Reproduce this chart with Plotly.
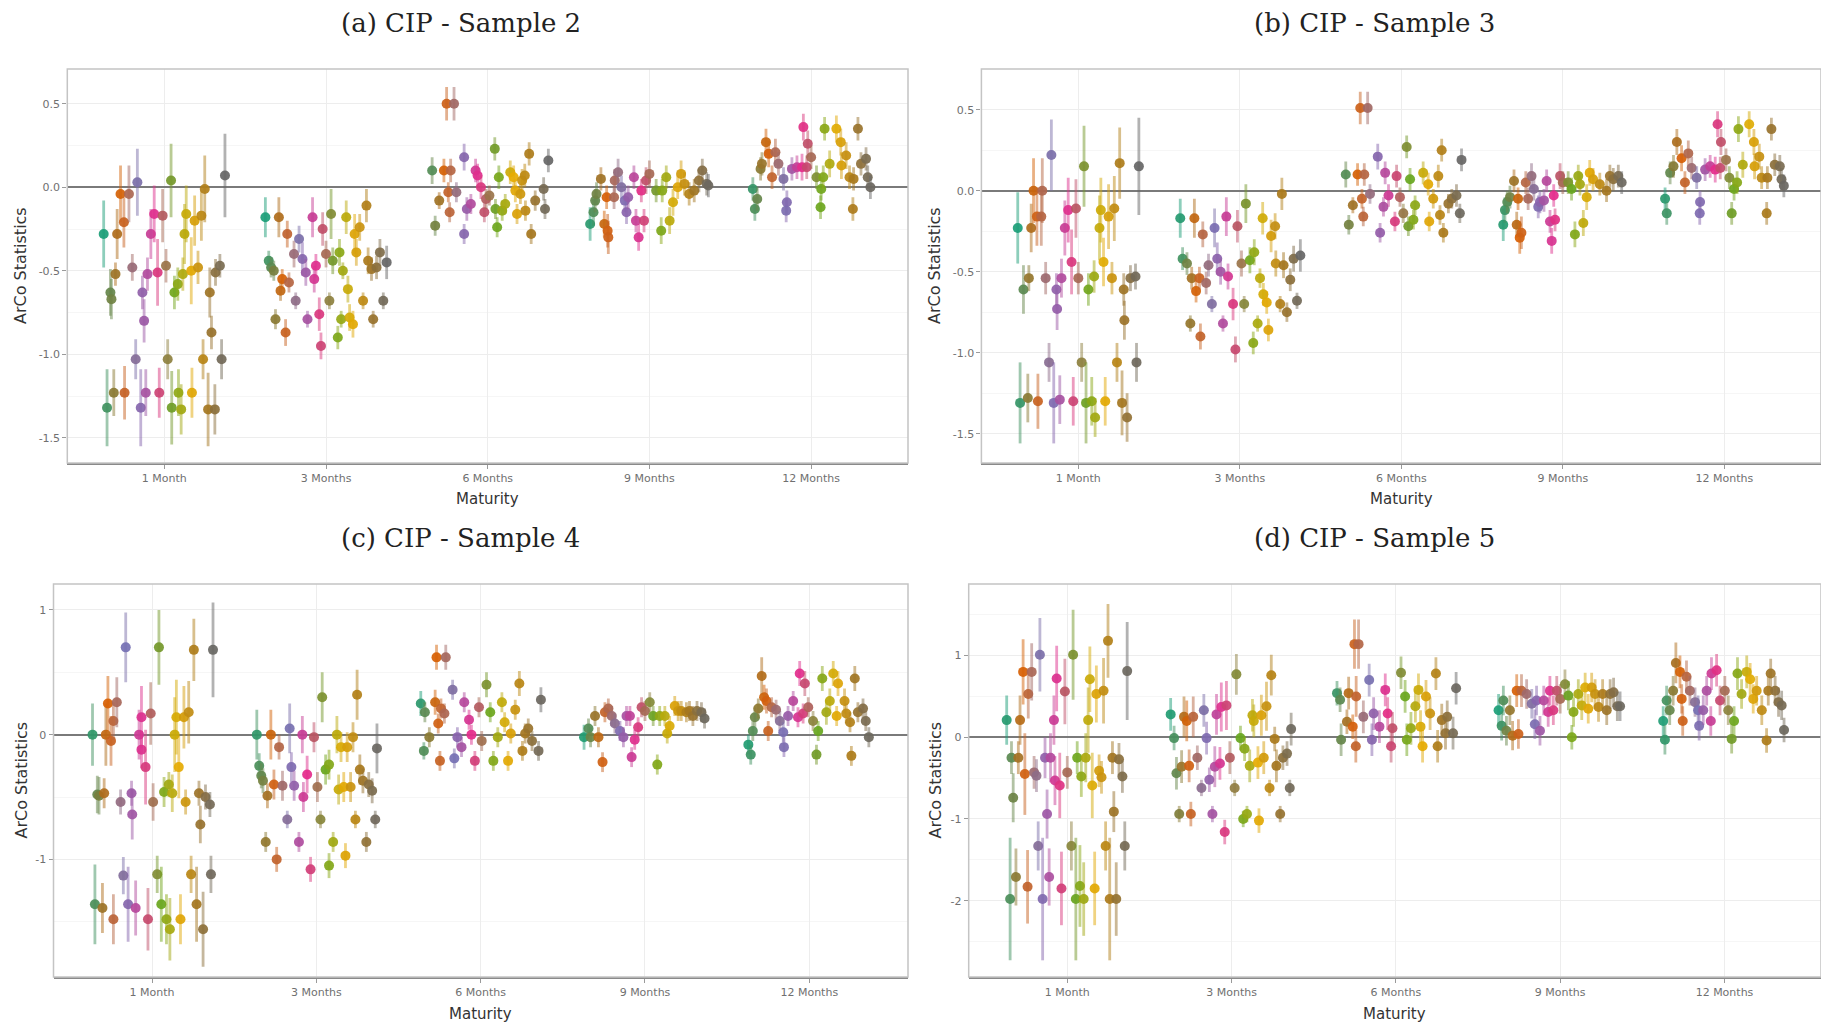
import plotly.graph_objects as go

# ---------------- data ----------------
MATURITIES = ["1 Month", "3 Months", "6 Months", "9 Months", "12 Months"]
PANEL_TITLES = ["(a) CIP - Sample 2", "(b) CIP - Sample 3", "(c) CIP - Sample 4", "(d) CIP - Sample 5"]

# each entry: (dodge slot 0..36, ArCo statistic, half width of interval)
A_1M = [(0,-0.28,0.20),(1,-1.32,0.23),(2,-0.63,0.14),(2.3,-0.67,0.12),(3,-1.23,0.14),(3.5,-0.52,0.07),(4,-0.28,0.15),(5,-0.04,0.17),(6,-0.21,0.15),(6.2,-1.23,0.16),(7.5,-0.04,0.17),(8.5,-0.48,0.08),(9.5,-1.03,0.12),(10,0.03,0.20),(11,-1.32,0.23),(11.5,-0.63,0.10),(12,-0.80,0.13),(12.5,-1.23,0.14),(13,-0.52,0.10),(14,-0.28,0.15),(15,-0.16,0.17),(16,-0.51,0.20),(16.5,-1.23,0.15),(17.5,-0.17,0.16),(18.5,-0.47,0.10),(19,-1.03,0.12),(20,0.04,0.22),(20.2,-1.32,0.22),(21,-0.63,0.10),(22,-0.58,0.10),(22.2,-1.23,0.14),(23,-1.33,0.15),(23.5,-0.52,0.10),(24,-0.28,0.18),(24.5,-0.16,0.17),(26,-0.50,0.20),(26.2,-1.23,0.15),(27,-0.20,0.15),(28,-0.48,0.10),(29,-0.17,0.15),(29.5,-1.03,0.12),(30,-0.01,0.20),(31,-1.33,0.22),(31.5,-0.63,0.15),(32,-0.87,0.10),(33,-1.33,0.15),(33.2,-0.51,0.08),(34.5,-0.47,0.07),(35,-1.03,0.12),(36,0.07,0.25)]
A_3M = [(0,-0.18,0.12),(1,-0.44,0.06),(1.7,-0.48,0.06),(2.5,-0.50,0.06),(3,-0.79,0.06),(4,-0.18,0.12),(4.5,-0.62,0.06),(5,-0.55,0.06),(6,-0.87,0.08),(6.5,-0.28,0.08),(7,-0.57,0.06),(8.5,-0.40,0.08),(9,-0.68,0.05),(10,-0.31,0.08),(11,-0.43,0.10),(12,-0.51,0.08),(12.5,-0.79,0.05),(14,-0.18,0.12),(14.5,-0.55,0.08),(15,-0.47,0.07),(16,-0.76,0.10),(16.5,-0.95,0.08),(17,-0.25,0.10),(18,-0.40,0.08),(19,-0.68,0.05),(19.5,-0.16,0.15),(20,-0.44,0.08),(21.5,-0.90,0.07),(22,-0.39,0.08),(22.5,-0.79,0.05),(23,-0.50,0.05),(24,-0.18,0.10),(24.5,-0.61,0.08),(25,-0.78,0.08),(26,-0.82,0.08),(26.5,-0.28,0.12),(27,-0.39,0.08),(28,-0.24,0.08),(29,-0.68,0.05),(30,-0.11,0.10),(30.5,-0.44,0.08),(31.5,-0.49,0.07),(32,-0.79,0.05),(33,-0.48,0.07),(34,-0.39,0.08),(35,-0.68,0.05),(36,-0.45,0.10)]
A_6M = [(1.5,0.10,0.08),(2.4,-0.23,0.06),(3.6,-0.08,0.05),(5,0.10,0.07),(5.8,0.50,0.10),(6.3,-0.03,0.06),(6.7,-0.15,0.06),(7,0.10,0.07),(8,0.50,0.10),(8.7,-0.03,0.06),(11,0.18,0.08),(11,-0.28,0.06),(11.8,-0.13,0.07),(13,-0.10,0.06),(14.4,0.10,0.07),(15,0.07,0.07),(16,0.00,0.07),(17,-0.15,0.06),(17.5,-0.07,0.06),(18.5,-0.05,0.06),(20.1,0.23,0.07),(20.3,-0.13,0.06),(20.8,-0.24,0.06),(21.3,0.06,0.07),(22.3,-0.14,0.06),(23.2,-0.10,0.06),(24.7,0.09,0.07),(25.7,0.06,0.07),(26.2,-0.02,0.07),(26.7,-0.16,0.06),(27.7,-0.04,0.06),(28.2,0.04,0.07),(29,0.07,0.07),(29.2,-0.14,0.06),(30.3,0.20,0.07),(30.9,-0.28,0.06),(32.1,-0.08,0.06),(34.6,-0.01,0.07),(35,-0.13,0.06),(36,0.16,0.07)]
A_9M = [(0.4,-0.22,0.10),(1.4,-0.15,0.08),(1.9,-0.08,0.07),(2.3,-0.04,0.07),(3.6,0.05,0.07),(4.6,-0.22,0.08),(5.3,-0.06,0.07),(5.6,-0.26,0.10),(5.8,-0.30,0.10),(7.5,-0.06,0.07),(7.7,0.04,0.07),(8.7,0.09,0.08),(9.7,0.00,0.07),(10.7,-0.08,0.07),(11.2,-0.15,0.07),(11.7,-0.06,0.07),(13.4,0.06,0.07),(14,-0.20,0.07),(14.8,-0.30,0.08),(15.6,-0.02,0.07),(16.4,-0.20,0.07),(17,0.04,0.08),(18,0.08,0.08),(20,-0.02,0.07),(21.5,-0.26,0.08),(21.8,-0.02,0.07),(23,0.06,0.07),(24,-0.20,0.08),(25,-0.09,0.08),(26.4,0.00,0.07),(27.4,0.08,0.08),(28.4,0.02,0.07),(29.8,-0.04,0.07),(31.3,-0.02,0.07),(32.7,0.04,0.07),(33.7,0.10,0.07),(35,0.02,0.07),(35.5,0.01,0.07)]
A_12M = [(0.7,-0.01,0.07),(1.3,-0.13,0.07),(2,-0.07,0.07),(3,0.11,0.07),(3.4,0.14,0.07),(4.6,0.27,0.08),(5.4,0.20,0.08),(6.4,0.06,0.07),(7.4,0.21,0.08),(8.3,0.14,0.07),(9.8,0.05,0.07),(10.8,-0.09,0.07),(10.6,-0.14,0.07),(12.3,0.11,0.07),(13.8,0.12,0.07),(15.7,0.36,0.08),(15.3,0.12,0.08),(16.7,0.12,0.07),(17,0.26,0.08),(18,0.18,0.07),(19.6,0.06,0.07),(21,-0.01,0.07),(20.8,-0.12,0.07),(21.6,0.06,0.07),(22,0.35,0.07),(23.5,0.14,0.08),(25.5,0.35,0.08),(26.8,0.27,0.08),(27,0.13,0.08),(28.4,0.19,0.08),(29.4,0.06,0.07),(30.6,0.05,0.07),(30.4,-0.13,0.07),(31.9,0.35,0.07),(32.8,0.14,0.07),(34.3,0.17,0.07),(34.8,0.06,0.07),(35.6,0.00,0.07)]

B_1M = [(0,-0.23,0.22),(0.7,-1.31,0.25),(1.7,-0.61,0.15),(3,-1.28,0.15),(3.3,-0.54,0.08),(4,-0.23,0.15),(4.7,0.00,0.20),(5.7,-0.16,0.18),(6,-1.30,0.17),(7,-0.16,0.18),(7.3,0.00,0.20),(8.3,-0.54,0.10),(9.3,-1.06,0.12),(10,0.22,0.22),(10.7,-1.31,0.25),(11.5,-0.61,0.10),(11.7,-0.73,0.13),(12.5,-1.29,0.15),(13,-0.54,0.12),(14,-0.23,0.17),(15,-0.12,0.20),(16,-0.44,0.20),(16.5,-1.30,0.15),(17.3,-0.11,0.18),(18,-0.54,0.10),(19,-1.06,0.12),(19.7,0.15,0.25),(20.3,-1.31,0.25),(21,-0.61,0.10),(22,-1.30,0.15),(22.7,-0.53,0.10),(23,-1.40,0.12),(24.3,-0.23,0.20),(24.7,-0.12,0.20),(25.5,-0.44,0.15),(26,-1.30,0.15),(27,-0.16,0.20),(28,-0.54,0.10),(28.7,-0.11,0.20),(29.5,-1.06,0.12),(30.3,0.17,0.22),(31,-1.31,0.20),(31.5,-0.61,0.10),(31.7,-0.80,0.12),(32.5,-1.40,0.15),(33.5,-0.54,0.08),(35,-0.53,0.08),(35.3,-1.06,0.12),(36,0.15,0.30)]
B_3M = [(0.3,-0.17,0.12),(1,-0.42,0.07),(2.3,-0.45,0.07),(3.3,-0.82,0.05),(3.7,-0.54,0.07),(4.5,-0.17,0.12),(5,-0.62,0.07),(6,-0.54,0.07),(6.3,-0.90,0.08),(7,-0.27,0.08),(8,-0.57,0.07),(8.7,-0.46,0.07),(9.7,-0.70,0.05),(10.5,-0.23,0.12),(11.3,-0.42,0.10),(12.3,-0.50,0.08),(13,-0.82,0.05),(14,-0.16,0.12),(14.5,-0.53,0.08),(16,-0.70,0.10),(16.7,-0.98,0.08),(17.3,-0.22,0.10),(18.5,-0.45,0.08),(19.3,-0.70,0.05),(19.8,-0.08,0.12),(21,-0.43,0.08),(22,-0.94,0.07),(22.3,-0.38,0.08),(23.3,-0.82,0.05),(24,-0.54,0.06),(24.8,-0.17,0.10),(25,-0.64,0.07),(26,-0.69,0.07),(26.5,-0.86,0.07),(27.3,-0.28,0.10),(28.5,-0.22,0.08),(28.7,-0.45,0.08),(30,-0.70,0.05),(30.5,-0.02,0.10),(31,-0.46,0.08),(32,-0.75,0.06),(33,-0.55,0.07),(34,-0.42,0.08),(35,-0.68,0.05),(36,-0.40,0.10)]
B_6M = [(1.5,0.10,0.08),(2.4,-0.21,0.06),(3.6,-0.09,0.05),(5,0.10,0.07),(5.8,0.51,0.10),(6.3,-0.05,0.06),(6.7,-0.16,0.06),(7,0.10,0.07),(8,0.51,0.10),(8.7,-0.02,0.06),(11,0.21,0.08),(11.7,-0.26,0.06),(12.7,-0.10,0.06),(13.2,0.11,0.07),(14.2,-0.03,0.07),(16.1,-0.19,0.06),(16.6,0.09,0.07),(17.6,-0.04,0.06),(18.6,-0.14,0.06),(19.6,0.27,0.07),(20.1,-0.22,0.06),(20.6,0.07,0.07),(21.6,-0.18,0.06),(22.1,-0.09,0.06),(24.5,0.11,0.07),(26,0.04,0.07),(26.3,-0.19,0.06),(27.5,-0.05,0.06),(29,0.09,0.07),(29.5,-0.15,0.06),(30,0.25,0.07),(30.5,-0.26,0.06),(32,-0.08,0.06),(33,-0.05,0.06),(34.4,-0.03,0.07),(35.4,-0.14,0.06),(35.9,0.19,0.07)]
B_9M = [(0.3,-0.21,0.10),(0.8,-0.12,0.08),(1.5,-0.07,0.07),(2.3,-0.04,0.07),(3.5,0.06,0.07),(4.3,-0.21,0.08),(4.7,-0.05,0.07),(5.2,-0.29,0.10),(5.7,-0.26,0.10),(7,0.05,0.07),(7.7,-0.05,0.07),(8.7,0.09,0.08),(9.4,0.01,0.07),(10.7,-0.10,0.07),(11.2,-0.07,0.07),(12.4,-0.06,0.07),(13.2,0.06,0.07),(14.2,-0.19,0.07),(14.7,-0.31,0.08),(15.3,-0.03,0.07),(15.7,-0.18,0.07),(17.2,0.09,0.08),(18,0.05,0.07),(19.6,0.05,0.07),(20.6,0.01,0.07),(21.6,-0.27,0.08),(22.6,0.09,0.07),(23.1,0.04,0.07),(24.1,-0.20,0.08),(25.1,-0.04,0.08),(26,0.11,0.08),(27,0.07,0.07),(29,0.04,0.07),(31,0.00,0.07),(32,0.09,0.07),(33,0.07,0.07),(34.5,0.09,0.07),(35.5,0.05,0.07)]
B_12M = [(0.4,-0.05,0.07),(0.9,-0.14,0.07),(1.9,0.11,0.07),(2.9,0.15,0.07),(3.9,0.30,0.08),(5.3,0.20,0.08),(6.3,0.05,0.07),(7.3,0.23,0.08),(8.3,0.14,0.07),(9.8,0.08,0.07),(10.8,-0.07,0.07),(10.7,-0.14,0.07),(12.3,0.13,0.07),(13.8,0.15,0.07),(15.3,0.13,0.08),(16,0.41,0.08),(16.8,0.14,0.07),(17,0.30,0.08),(18.5,0.19,0.07),(19.5,0.08,0.07),(20.9,0.01,0.07),(20.2,-0.14,0.07),(21.8,0.05,0.07),(22.2,0.38,0.08),(23.5,0.16,0.08),(25.4,0.41,0.08),(26.8,0.30,0.08),(27,0.15,0.08),(28.4,0.21,0.08),(29.1,0.08,0.07),(30.8,0.08,0.07),(30.6,-0.14,0.07),(32,0.38,0.07),(33,0.16,0.07),(34.5,0.15,0.07),(35,0.07,0.07),(35.7,0.03,0.07)]

C_1M = [(0.6,0.00,0.25),(1.3,-1.36,0.32),(2,-0.48,0.15),(2.5,-0.49,0.15),(3.5,-1.39,0.20),(4,-0.47,0.12),(4.5,0.00,0.25),(5.1,0.25,0.22),(6,-0.05,0.20),(6.7,0.11,0.15),(6.7,-1.48,0.20),(7.7,0.26,0.20),(8.8,-0.54,0.10),(9.6,-1.13,0.15),(10.3,0.70,0.28),(11,-1.36,0.30),(12,-0.47,0.10),(12.2,-0.64,0.20),(13.2,-1.39,0.22),(14.2,0.00,0.20),(14.9,0.14,0.25),(14.9,-0.12,0.15),(16.1,-0.26,0.30),(16.8,-1.48,0.25),(17.6,0.17,0.25),(18.3,-0.54,0.15),(19.5,-1.12,0.15),(20,0.70,0.30),(20.7,-1.36,0.30),(21.5,-0.46,0.12),(22.2,-1.48,0.20),(22.9,-0.40,0.10),(23.2,-1.56,0.25),(23.9,-0.47,0.15),(24.6,0.00,0.30),(25.1,0.14,0.30),(25.8,-0.26,0.25),(26.3,-1.48,0.20),(27.3,0.14,0.25),(27.8,-0.54,0.10),(28.7,0.18,0.25),(29.4,-1.12,0.15),(30.2,0.68,0.25),(31,-1.36,0.30),(31.7,-0.47,0.10),(32.1,-0.72,0.15),(32.9,-1.56,0.30),(33.6,-0.50,0.10),(34.9,-0.56,0.10),(35.2,-1.12,0.15),(35.8,0.68,0.38)]
C_3M = [(0.6,0.00,0.20),(1.3,-0.25,0.10),(1.9,-0.33,0.10),(2.4,-0.37,0.10),(3.2,-0.86,0.08),(3.7,-0.49,0.10),(4.7,0.00,0.20),(5.6,-0.40,0.12),(6.4,-1.00,0.10),(7.1,-0.10,0.10),(8.1,-0.41,0.12),(9.5,-0.68,0.07),(10.2,0.05,0.20),(10.7,-0.26,0.12),(11.5,-0.41,0.12),(12.9,-0.86,0.08),(13.9,0.00,0.15),(14.2,-0.50,0.12),(15.3,-0.32,0.15),(16.3,-1.08,0.10),(17.3,-0.02,0.12),(18.3,-0.42,0.12),(19.2,-0.68,0.07),(19.7,0.30,0.20),(20.7,-0.28,0.12),(21.7,-0.24,0.12),(21.7,-1.05,0.10),(22.9,-0.86,0.08),(24,0.00,0.15),(24.5,-0.44,0.12),(25.2,-0.10,0.12),(26,-0.42,0.12),(26.5,-0.97,0.10),(27,-0.10,0.12),(28,-0.42,0.12),(28.7,-0.02,0.12),(29.4,-0.68,0.07),(29.9,0.32,0.20),(30.7,-0.28,0.12),(31.6,-0.37,0.10),(32.6,-0.86,0.08),(33.3,-0.40,0.10),(34.3,-0.45,0.10),(35.2,-0.68,0.07),(35.7,-0.11,0.20)]
C_6M = [(0.5,0.25,0.10),(1.7,0.18,0.08),(1.4,-0.13,0.07),(3,-0.02,0.08),(4.7,0.26,0.10),(5.1,0.62,0.10),(7.8,0.62,0.10),(5.6,0.09,0.08),(6.4,0.21,0.08),(6.1,-0.21,0.08),(7.4,0.17,0.08),(9.8,0.36,0.08),(10.3,-0.19,0.08),(11.2,-0.02,0.08),(12.4,-0.10,0.08),(13.2,0.26,0.08),(14.6,0.12,0.08),(15.3,0.00,0.08),(16.3,-0.21,0.08),(17.5,0.22,0.08),(18.3,-0.05,0.08),(19.7,0.40,0.10),(20.8,0.18,0.08),(21.7,-0.21,0.08),(23,-0.02,0.08),(24.2,0.26,0.08),(25,0.10,0.08),(26,-0.21,0.08),(26.8,0.01,0.08),(28.1,0.20,0.08),(29.3,0.41,0.10),(30.2,-0.13,0.08),(31,0.01,0.08),(31.9,0.05,0.08),(33,-0.05,0.08),(34.9,-0.13,0.08),(35.6,0.28,0.10)]
C_9M = [(0.2,-0.02,0.10),(1.5,0.05,0.08),(2.1,-0.02,0.08),(3.4,0.15,0.08),(4.4,-0.02,0.08),(5.6,-0.22,0.08),(6.3,0.18,0.08),(7.3,0.21,0.08),(8.3,0.15,0.08),(9.2,0.09,0.08),(10.7,0.03,0.08),(11.7,-0.02,0.08),(12.6,0.15,0.08),(13.6,0.15,0.08),(14.1,-0.18,0.08),(15,-0.04,0.08),(16,0.06,0.08),(17,0.22,0.08),(18,0.19,0.08),(19.4,0.26,0.08),(20.4,0.15,0.08),(21.6,-0.24,0.08),(22.3,0.15,0.08),(23.8,0.15,0.08),(24.5,0.01,0.08),(25.2,0.07,0.08),(26.7,0.23,0.08),(27.7,0.19,0.08),(28.6,0.19,0.08),(30.1,0.18,0.08),(31,0.19,0.08),(32,0.15,0.08),(33.2,0.19,0.08),(34.5,0.18,0.08),(35.4,0.13,0.08)]
C_12M = [(0.2,-0.08,0.08),(0.9,-0.16,0.08),(1.5,0.03,0.08),(2.1,0.14,0.08),(3.1,0.21,0.08),(4.1,0.47,0.15),(4.8,0.30,0.10),(5.5,0.27,0.10),(6,0.03,0.08),(7,0.22,0.08),(8.3,0.20,0.08),(9.4,0.11,0.08),(10.4,0.02,0.08),(10.6,-0.10,0.08),(11.8,0.15,0.08),(13.3,0.27,0.08),(15.2,0.49,0.10),(16.7,0.41,0.10),(14.7,0.14,0.08),(16.2,0.17,0.08),(17.7,0.22,0.08),(19.1,0.11,0.08),(20.6,0.03,0.08),(20.1,-0.16,0.08),(21.8,0.45,0.10),(23,0.18,0.10),(24,0.27,0.10),(25,0.49,0.10),(26.4,0.41,0.10),(26,0.15,0.08),(28.3,0.27,0.10),(28.8,0.17,0.08),(30.3,-0.17,0.08),(29.9,0.10,0.08),(31.3,0.45,0.10),(32.2,0.18,0.08),(33.7,0.21,0.08),(34.5,0.11,0.08),(35.4,-0.02,0.08)]

D_1M = [(0.3,0.21,0.30),(1.3,-1.98,0.75),(1.7,-0.25,0.20),(2.2,-0.74,0.30),(3,-1.71,0.35),(3.7,-0.25,0.20),(4.2,0.21,0.30),(5.1,0.80,0.40),(5.6,-0.45,0.50),(6.4,-1.83,0.45),(6.6,0.53,0.30),(7.6,0.80,0.35),(8.3,-0.43,0.20),(9,-0.47,0.20),(9.5,-1.33,0.30),(10,1.01,0.45),(10.8,-1.98,0.75),(11.5,-0.25,0.25),(12.1,-0.94,0.30),(12.7,-1.71,0.35),(13.1,-0.25,0.30),(14.1,0.21,0.30),(14.4,-0.53,0.30),(14.9,0.72,0.40),(15.8,-0.59,0.40),(16.3,-1.85,0.45),(17.3,0.56,0.40),(18,-0.43,0.20),(19.2,-1.33,0.30),(19.7,1.01,0.55),(20.5,-1.98,0.75),(20.9,-0.25,0.20),(21.7,-1.82,0.50),(22.1,-0.48,0.25),(22.8,-1.98,0.45),(23.4,-0.25,0.30),(24.1,0.21,0.40),(24.6,0.71,0.40),(25.3,-0.59,0.40),(26,-1.85,0.45),(26.5,0.53,0.35),(27.3,-0.41,0.20),(28,-0.49,0.20),(28.6,0.57,0.40),(29.2,-1.33,0.30),(29.9,1.18,0.45),(30.4,-1.98,0.75),(31.2,-0.25,0.20),(31.6,-0.91,0.25),(32.3,-1.98,0.45),(33.1,-0.27,0.20),(34.1,-0.48,0.20),(34.8,-1.33,0.30),(35.5,0.81,0.60)]
D_3M = [(0.2,0.28,0.20),(1.2,-0.01,0.15),(1.9,-0.44,0.20),(2.7,-0.94,0.10),(3.4,-0.36,0.20),(4.1,0.25,0.25),(4.9,0.20,0.25),(5.6,-0.35,0.20),(6.1,-0.94,0.15),(6.8,0.25,0.25),(8,-0.25,0.15),(9.2,-0.62,0.10),(9.9,0.33,0.20),(10.7,-0.01,0.20),(11.5,-0.52,0.15),(12.4,-0.94,0.10),(13.1,-0.36,0.25),(13.6,0.28,0.25),(14.6,-0.32,0.20),(15,0.37,0.30),(16,-1.16,0.15),(16.5,0.39,0.30),(17.5,-0.25,0.20),(18.9,-0.62,0.10),(19.4,0.77,0.25),(20.6,-0.01,0.15),(21.4,-1.00,0.10),(21.8,-0.14,0.15),(22.5,-0.94,0.10),(23.3,-0.35,0.20),(24.1,0.27,0.20),(24.5,0.20,0.20),(25.7,-0.31,0.20),(26,-1.02,0.15),(26.7,0.27,0.25),(27.4,-0.25,0.20),(28.2,0.38,0.30),(29.1,-0.62,0.10),(29.6,0.76,0.25),(30.6,-0.02,0.15),(31.1,-0.35,0.20),(32.2,-0.94,0.10),(33,-0.25,0.15),(34.2,-0.20,0.15),(35,-0.62,0.10),(35.4,0.10,0.20)]
D_6M = [(0.8,0.54,0.15),(1.7,0.46,0.15),(2,-0.03,0.20),(3.7,0.19,0.15),(4.2,0.54,0.20),(5.9,1.14,0.30),(7.1,1.14,0.30),(6.4,0.50,0.25),(5.4,0.13,0.15),(6.3,-0.11,0.20),(8.5,0.25,0.20),(10.2,0.70,0.20),(11,-0.03,0.20),(11.5,0.29,0.20),(13.2,0.13,0.20),(14.9,0.58,0.20),(15.6,0.29,0.20),(16.6,-0.11,0.20),(17,0.11,0.20),(19.5,0.79,0.20),(20.7,0.50,0.20),(21.2,-0.03,0.20),(22.4,0.11,0.20),(23.7,0.38,0.20),(24.6,0.58,0.20),(25.2,0.13,0.20),(25.8,-0.11,0.20),(26.8,0.50,0.20),(28,0.29,0.20),(29.7,0.78,0.20),(30.2,-0.11,0.20),(31.4,0.21,0.20),(32.5,0.05,0.20),(33,0.25,0.20),(34.7,0.05,0.20),(35.6,0.60,0.20)]
D_9M = [(0,0.33,0.20),(0.9,0.14,0.18),(1.4,0.45,0.18),(2.3,0.08,0.18),(3.3,0.33,0.18),(4.1,0.02,0.18),(5.3,0.57,0.20),(5.8,0.04,0.18),(6.7,0.57,0.20),(8.2,0.53,0.18),(9.7,0.41,0.18),(10.6,0.16,0.18),(11.1,0.45,0.18),(12.1,0.08,0.18),(13.2,0.45,0.18),(14.5,0.31,0.18),(15,0.57,0.18),(16,0.33,0.18),(17,0.57,0.18),(18,0.47,0.18),(19.4,0.65,0.18),(20.4,0.51,0.18),(21.4,0.00,0.15),(21.9,0.31,0.18),(23.3,0.53,0.18),(24.3,0.39,0.18),(25.3,0.61,0.18),(26.2,0.35,0.18),(27.2,0.61,0.18),(28.2,0.53,0.18),(29.2,0.37,0.18),(30.4,0.53,0.18),(31.6,0.33,0.18),(32.6,0.53,0.18),(33.6,0.55,0.18),(34.7,0.38,0.18),(35.5,0.38,0.18)]
D_12M = [(0.1,0.20,0.18),(0.6,-0.03,0.18),(1.1,0.45,0.18),(2,0.33,0.18),(3,0.57,0.18),(3.8,0.91,0.25),(5,0.80,0.20),(5.5,0.47,0.18),(5.8,0.20,0.18),(6.9,0.74,0.20),(7.9,0.57,0.18),(9.4,0.43,0.18),(10.3,0.33,0.18),(10.6,0.14,0.18),(11.8,0.33,0.18),(12.8,0.57,0.18),(14,0.20,0.18),(14.2,0.78,0.20),(15.7,0.82,0.20),(16.7,0.45,0.18),(18.1,0.57,0.18),(19.1,0.33,0.18),(20.1,-0.02,0.18),(20.8,0.20,0.18),(21.8,0.78,0.20),(23,0.53,0.18),(24.5,0.80,0.20),(25.5,0.71,0.20),(26.4,0.47,0.18),(27.4,0.57,0.18),(28.9,0.33,0.18),(30.3,-0.04,0.15),(30.8,0.57,0.18),(31.5,0.78,0.18),(32.8,0.57,0.18),(33.8,0.43,0.18),(34.7,0.39,0.18),(35.4,0.09,0.15)]

PANEL_DATA = [
    [A_1M, A_3M, A_6M, A_9M, A_12M],
    [B_1M, B_3M, B_6M, B_9M, B_12M],
    [C_1M, C_3M, C_6M, C_9M, C_12M],
    [D_1M, D_3M, D_6M, D_9M, D_12M],
]

Y_TICKS = [
    ([0.5, 0.0, -0.5, -1.0, -1.5], ["0.5", "0.0", "-0.5", "-1.0", "-1.5"]),
    ([0.5, 0.0, -0.5, -1.0, -1.5], ["0.5", "0.0", "-0.5", "-1.0", "-1.5"]),
    ([1, 0, -1], ["1", "0", "-1"]),
    ([1, 0, -1, -2], ["1", "0", "-1", "-2"]),
]

# ---------------- style / layout ----------------
W, H = 1821, 1027
DARK2 = ["#1B9E77", "#D95F02", "#7570B3", "#E7298A", "#66A61E", "#E6AB02", "#A6761D", "#666666"]
N_SLOTS = 36.0
DODGE = 0.75

# pixel geometry of each panel: (left, right, top, bottom, y_top_value, y_bottom_value, minor_step)
PANEL_GEOM = [
    (67.3, 908.0, 69.0, 463.0, 0.708, -1.651, 0.25),
    (981.4, 1821.0, 69.0, 463.0, 0.751, -1.681, 0.25),
    (53.5, 908.0, 584.0, 977.0, 1.208, -1.943, 0.5),
    (968.7, 1821.0, 584.0, 977.0, 1.876, -2.934, 0.5),
]
CAT_STEP = [161.7, 161.5, 164.3, 164.3]


def hex_to_rgb(h):
    h = h.lstrip("#")
    return tuple(int(h[i:i + 2], 16) for i in (0, 2, 4))


def ramp(t):
    t = min(max(t, 0.0), 1.0) * (len(DARK2) - 1)
    i = min(int(t), len(DARK2) - 2)
    f = t - i
    a, b = hex_to_rgb(DARK2[i]), hex_to_rgb(DARK2[i + 1])
    return tuple(round(a[k] + (b[k] - a[k]) * f) for k in range(3))


def rgba(c, a):
    return "rgba(%d,%d,%d,%.2f)" % (c[0], c[1], c[2], a)


fig = go.Figure()
layout = dict(
    width=W, height=H, autosize=False,
    margin=dict(l=0, r=0, t=0, b=0),
    paper_bgcolor="white", plot_bgcolor="white",
    showlegend=False,
)
annotations = []
shapes = []

for p in range(4):
    left, right, top, bottom, ytop, ybot, mstep = PANEL_GEOM[p]
    ax = "" if p == 0 else str(p + 1)
    xname, yname = "xaxis" + ax, "yaxis" + ax
    xref, yref = "x" + ax, "y" + ax
    x_lo = 0.4
    x_hi = 0.4 + (right - left) / CAT_STEP[p]
    layout[xname] = dict(
        domain=[left / W, right / W], range=[x_lo, x_hi], anchor=yref,
        tickmode="array", tickvals=[1, 2, 3, 4, 5], ticktext=MATURITIES,
        showgrid=True, gridcolor="#EDEDED", gridwidth=1.2,
        showline=True, linecolor="#8A8A8A", linewidth=2, mirror=False,
        ticks="outside", ticklen=4, tickcolor="#9A9A9A", tickwidth=1,
        tickfont=dict(family="DejaVu Sans", size=11, color="#707070"),
        zeroline=False, fixedrange=True,
    )
    tv, tt = Y_TICKS[p]
    layout[yname] = dict(
        domain=[1 - bottom / H, 1 - top / H], range=[ybot, ytop], anchor=xref,
        tickmode="array", tickvals=tv, ticktext=tt,
        showgrid=True, gridcolor="#EDEDED", gridwidth=1.2,
        minor=dict(dtick=mstep, tick0=0, showgrid=True, gridcolor="#F6F6F6", gridwidth=0.8),
        showline=False,
        ticks="outside", ticklen=4, tickcolor="#9A9A9A", tickwidth=1,
        tickfont=dict(family="DejaVu Sans", size=11, color="#707070"),
        zeroline=True, zerolinecolor="#7A7A7A", zerolinewidth=1.8,
        fixedrange=True,
    )
    # panel border
    shapes.append(dict(type="rect", xref=xref + " domain", yref=yref + " domain",
                       x0=0, x1=1, y0=0, y1=1, line=dict(color="#C4C4C4", width=1.5),
                       layer="above"))

    # points grouped by (rounded) dodge slot so each group keeps its own bar colour
    groups = {}
    for m_idx, cluster in enumerate(PANEL_DATA[p]):
        for slot, val, ci in cluster:
            key = int(round(slot))
            g = groups.setdefault(key, dict(x=[], y=[], e=[], c=[]))
            g["x"].append((m_idx + 1) + (slot / N_SLOTS - 0.5) * DODGE)
            g["y"].append(val)
            g["e"].append(ci)
            g["c"].append(rgba(ramp(slot / N_SLOTS), 0.92))
    for key in sorted(groups):
        g = groups[key]
        col = ramp(key / N_SLOTS)
        fig.add_trace(go.Scatter(
            x=g["x"], y=g["y"], mode="markers", xaxis=xref, yaxis=yref,
            marker=dict(size=10, color=g["c"], line=dict(width=0)),
            error_y=dict(type="data", array=g["e"], symmetric=True,
                         color=rgba(col, 0.5), thickness=2.8, width=0),
            hoverinfo="skip",
        ))

    # titles and axis titles
    col_center = 461 if p % 2 == 0 else 1374
    title_y = 23 if p < 2 else 538
    annotations.append(dict(text=PANEL_TITLES[p], x=col_center / W, y=1 - title_y / H,
                            xref="paper", yref="paper", showarrow=False,
                            xanchor="center", yanchor="middle",
                            font=dict(family="DejaVu Serif", size=26, color="#222222")))
    ylab_x = 21 if p % 2 == 0 else 935
    annotations.append(dict(text="ArCo Statistics", x=ylab_x / W, y=1 - ((top + bottom) / 2) / H,
                            xref="paper", yref="paper", showarrow=False, textangle=-90,
                            xanchor="center", yanchor="middle",
                            font=dict(family="DejaVu Sans", size=16, color="#333333")))
    mat_y = 499 if p < 2 else 1014
    annotations.append(dict(text="Maturity", x=((left + min(right, W)) / 2) / W, y=1 - mat_y / H,
                            xref="paper", yref="paper", showarrow=False,
                            xanchor="center", yanchor="middle",
                            font=dict(family="DejaVu Sans", size=15, color="#333333")))

layout["annotations"] = annotations
layout["shapes"] = shapes
fig.update_layout(**layout)
fig.write_html("out.html")
